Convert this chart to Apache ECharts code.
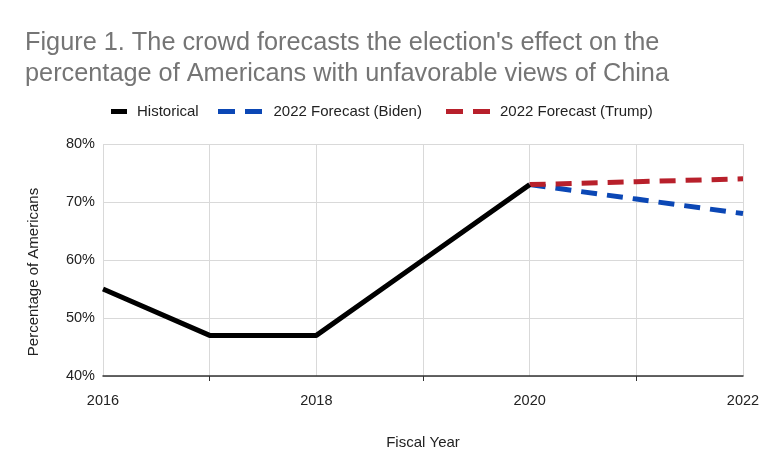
<!DOCTYPE html>
<html><head><meta charset="utf-8">
<script src="https://cdn.jsdelivr.net/npm/echarts@6/dist/echarts.min.js"></script>
<style>html,body{margin:0;padding:0;background:#fff}#c{width:768px;height:474px}</style>
</head><body><div id="c"></div>
<script>
const historicalYears = [2016, 2017, 2018, 2019, 2020];
const historicalValues = [55, 47, 47, 60, 73];
const bidenYears = [2020, 2021, 2022];
const bidenValues = [73, 70.5, 68];
const trumpYears = [2020, 2021, 2022];
const trumpValues = [73, 73.5, 74];
const xLabelYears = [2016, 2018, 2020, 2022];
const xTickYears = [2017, 2019, 2021];
const seriesNames = ['Historical', '2022 Forecast (Biden)', '2022 Forecast (Trump)'];

const pair = (xs, ys) => xs.map((x, i) => [x, ys[i]]);
const FONT = 'Liberation Sans, Arial, sans-serif';
const legendText = {fontFamily: FONT, fontSize: 15, color: '#222', padding: [0, 0, 0, 5]};
const dashIcon = 'path://M0,0H17V5H0Z M27,0H44V5H27Z';

const chart = echarts.init(document.getElementById('c'), null, {renderer: 'canvas'});
chart.setOption({
  animation: false,
  title: {
    text: "Figure 1. The crowd forecasts the election's effect on the\npercentage of Americans with unfavorable views of China",
    left: 20, top: 23,
    textStyle: {fontFamily: FONT, fontSize: 25.3, fontWeight: 'normal', color: '#757575', lineHeight: 31}
  },
  legend: [
    {data: [{name: seriesNames[0], icon: 'rect'}], left: 106, top: 99, itemWidth: 16, itemHeight: 5, textStyle: legendText},
    {data: [{name: seriesNames[1], icon: dashIcon}], left: 213, top: 99, itemWidth: 47, itemHeight: 5, textStyle: legendText},
    {data: [{name: seriesNames[2], icon: dashIcon}], left: 441, top: 99, itemWidth: 44, itemHeight: 5, textStyle: legendText}
  ],
  grid: {left: 103, right: 25, top: 144, bottom: 98},
  xAxis: [{
    type: 'value', min: 2016, max: 2022, interval: 1,
    name: 'Fiscal Year', nameLocation: 'middle', nameGap: 59,
    nameTextStyle: {fontFamily: FONT, fontSize: 15, color: '#222'},
    axisLine: {show: true, lineStyle: {color: '#333', width: 1.5}},
    axisTick: {show: true, customValues: xTickYears, length: 5, lineStyle: {color: '#333'}},
    axisLabel: {customValues: xLabelYears, formatter: v => String(v), margin: 17, fontFamily: FONT, fontSize: 14.5, color: '#222'},
    splitLine: {show: false},
    z: 5
  }, {
    type: 'value', min: 2016, max: 2022, interval: 1, position: 'bottom',
    axisLine: {show: false}, axisTick: {show: false}, axisLabel: {show: false},
    splitLine: {show: true, lineStyle: {color: '#d9d9d9', width: 1}}
  }],
  yAxis: {
    type: 'value', min: 40, max: 80, interval: 10,
    name: 'Percentage of Americans', nameLocation: 'middle', nameGap: 62,
    nameTextStyle: {fontFamily: FONT, fontSize: 15, color: '#222', padding: [0, 24, 0, 0]},
    axisLine: {show: false}, axisTick: {show: false},
    axisLabel: {formatter: '{value}%', margin: 8, fontFamily: FONT, fontSize: 14.5, color: '#222'},
    splitLine: {show: true, lineStyle: {color: '#d9d9d9', width: 1}}
  },
  series: [
    {name: seriesNames[0], type: 'line', data: pair(historicalYears, historicalValues), showSymbol: false, symbol: 'none', z: 3,
      lineStyle: {color: '#000', width: 5}, itemStyle: {color: '#000'}},
    {name: seriesNames[1], type: 'line', data: pair(bidenYears, bidenValues), showSymbol: false, symbol: 'none', z: 2,
      lineStyle: {color: '#0b47b5', width: 5, type: [16, 10]}, itemStyle: {color: '#0b47b5'}},
    {name: seriesNames[2], type: 'line', data: pair(trumpYears, trumpValues), showSymbol: false, symbol: 'none', z: 2,
      lineStyle: {color: '#b8202b', width: 5, type: [16, 10]}, itemStyle: {color: '#b8202b'}}
  ]
});
</script></body></html>
